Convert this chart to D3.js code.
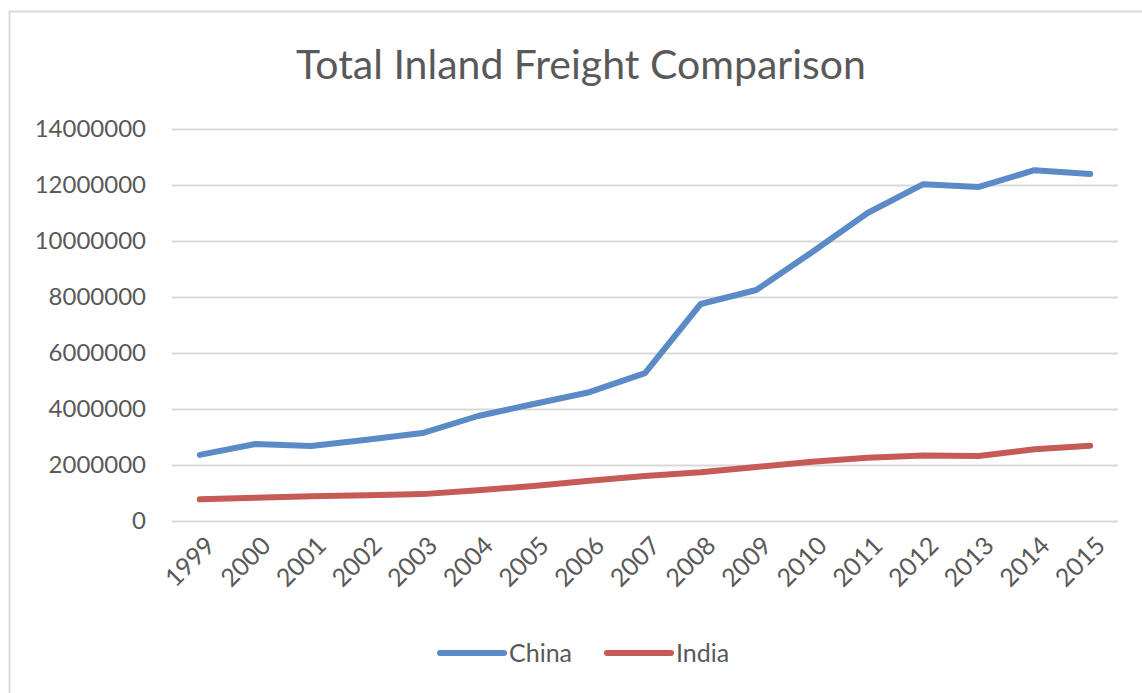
<!DOCTYPE html>
<html>
<head>
<meta charset="utf-8">
<script src="https://cdn.jsdelivr.net/npm/d3@7"></script>
<style>
  body { margin: 0; background: #fff; }
  svg { display: block; }
  text { font-family: Lato, "Open Sans", sans-serif; fill: #595959; }
</style>
</head>
<body>
<script>
// Data
var years = ["1999", "2000", "2001", "2002", "2003", "2004", "2005", "2006", "2007",
             "2008", "2009", "2010", "2011", "2012", "2013", "2014", "2015"];
var china = [2360000, 2750000, 2680000, 2900000, 3140000, 3750000, 4180000, 4600000, 5280000,
             7750000, 8250000, 9600000, 11000000, 12030000, 11930000, 12530000, 12390000];
var india = [775000, 830000, 880000, 920000, 960000, 1100000, 1250000, 1440000, 1610000,
             1740000, 1930000, 2120000, 2260000, 2340000, 2320000, 2560000, 2690000];
var yTicks = [0, 2000000, 4000000, 6000000, 8000000, 10000000, 12000000, 14000000];
var seriesNames = ["China", "India"];
var seriesColors = ["#5b8bc6", "#c55a56"];

var svgWidth = 1142;
var svgHeight = 693;
var margin = { top: 129, right: 24, bottom: 172, left: 172 };
var chartWidth = svgWidth - margin.left - margin.right;
var chartHeight = svgHeight - margin.top - margin.bottom;

var svg = d3.select("body")
    .append("svg")
    .attr("width", svgWidth)
    .attr("height", svgHeight);

// outer frame
svg.append("rect")
    .attr("x", 9.5)
    .attr("y", 11.5)
    .attr("width", svgWidth)
    .attr("height", svgHeight)
    .attr("fill", "none")
    .attr("stroke", "#d9d9d9")
    .attr("stroke-width", 2);

// title
svg.append("text")
    .attr("x", 581)
    .attr("y", 79)
    .attr("text-anchor", "middle")
    .style("font-size", "41px")
    .text("Total Inland Freight Comparison");

var chartGroup = svg.append("g")
    .attr("transform", `translate(${margin.left}, ${margin.top})`);

var xScale = d3.scalePoint()
    .domain(years)
    .range([0, chartWidth])
    .padding(0.5);

var yScale = d3.scaleLinear()
    .domain([0, 14000000])
    .range([chartHeight, 0]);

// gridlines
var yAxis = d3.axisLeft(yScale)
    .tickValues(yTicks)
    .tickSize(-chartWidth)
    .tickPadding(26)
    .tickFormat(d3.format("d"));

var yG = chartGroup.append("g").call(yAxis);
yG.select(".domain").remove();
yG.selectAll(".tick line").attr("stroke", "#d9d9d9").attr("stroke-width", 2);
yG.selectAll(".tick text")
    .style("font-size", "24px")
    .style("font-family", "Lato, sans-serif")
    .attr("fill", "#595959");

// x axis labels (rotated)
var xAxis = d3.axisBottom(xScale).tickSize(0).tickPadding(0);
var xG = chartGroup.append("g")
    .attr("transform", `translate(0, ${chartHeight})`)
    .call(xAxis);
xG.select(".domain").remove();
xG.selectAll(".tick text")
    .style("font-size", "25px")
    .style("font-family", "Lato, sans-serif")
    .attr("fill", "#595959")
    .attr("text-anchor", "end")
    .attr("dy", "0.35em")
    .attr("transform", "translate(10, 20) rotate(-45)");

// lines
var line = d3.line()
    .x((d, i) => xScale(years[i]))
    .y(d => yScale(d));

[china, india].forEach(function (values, k) {
    chartGroup.append("path")
        .datum(values)
        .attr("d", line)
        .attr("fill", "none")
        .attr("stroke", seriesColors[k])
        .attr("stroke-width", 6)
        .attr("stroke-linecap", "round")
        .attr("stroke-linejoin", "round");
});

// legend
var legendX = [440, 607];
seriesNames.forEach(function (name, k) {
    var g = svg.append("g").attr("transform", `translate(${legendX[k]}, 653)`);
    g.append("line")
        .attr("x1", 0).attr("x2", 64)
        .attr("y1", 0).attr("y2", 0)
        .attr("stroke", seriesColors[k])
        .attr("stroke-width", 6)
        .attr("stroke-linecap", "round");
    g.append("text")
        .attr("x", 69)
        .attr("y", 9)
        .style("font-size", "25px")
        .text(name);
});
</script>
</body>
</html>
